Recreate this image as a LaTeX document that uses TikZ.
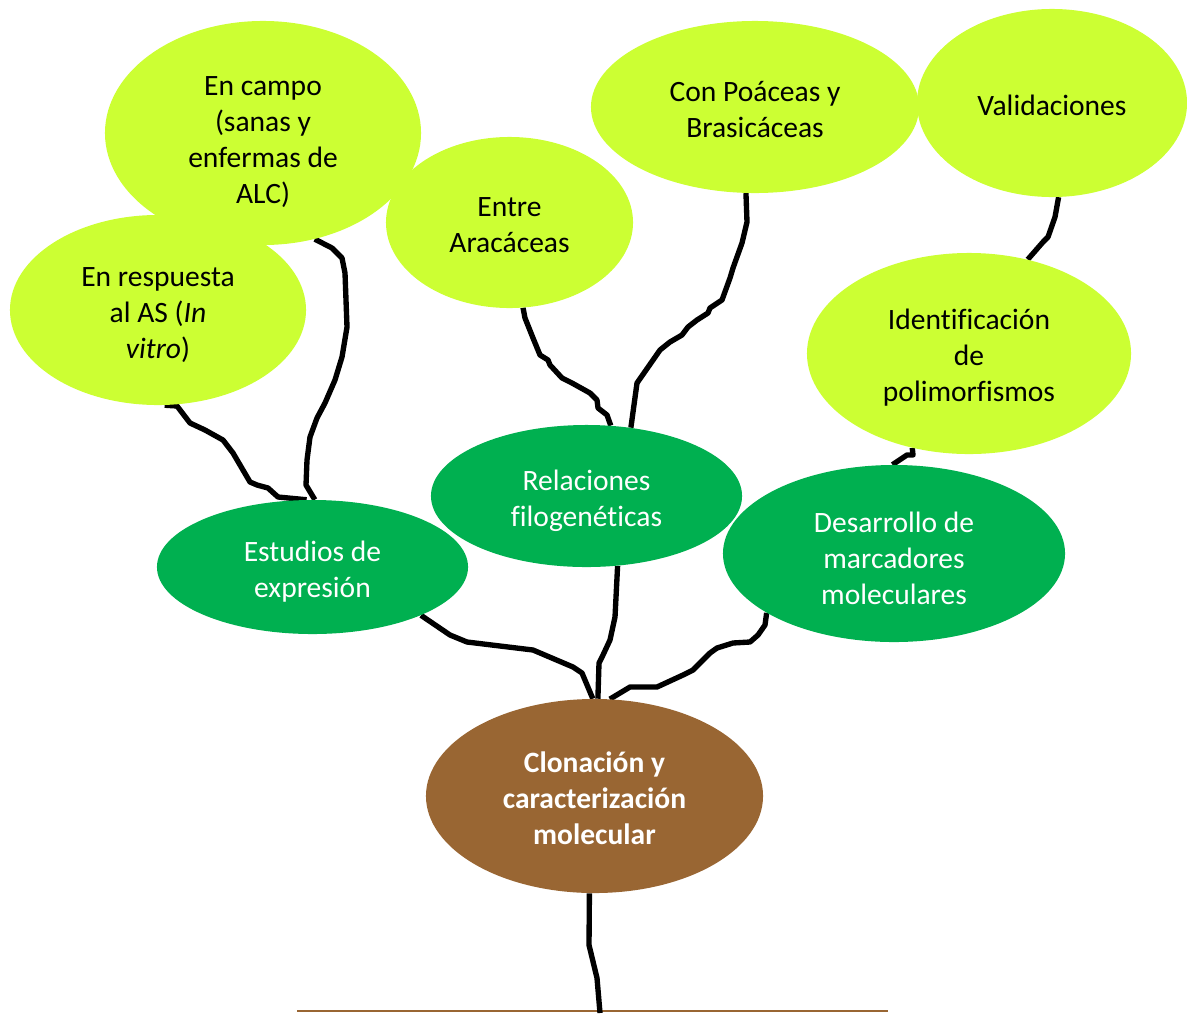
\documentclass[tikz,border=0pt]{standalone}
\usepackage{fontspec}
\setmainfont{Carlito}[Ligatures={NoCommon}]
\usepackage{tikz}
\usetikzlibrary{shapes.geometric,backgrounds}
\definecolor{leafgreen}{RGB}{204,255,51}
\definecolor{boughgreen}{RGB}{0,176,80}
\definecolor{barkbrown}{RGB}{153,102,51}

\begin{document}
\begin{tikzpicture}[
    x=0.025cm, y=-0.025cm,
    leaf/.style={ellipse, fill=leafgreen, text=black, align=center, inner sep=0pt, font=\fontsize{21}{25.6}\selectfont},
    bough/.style={leaf, fill=boughgreen, text=white},
    seed/.style={leaf, fill=barkbrown, text=white, font=\fontsize{21}{25.6}\selectfont\bfseries},
    branch/.style={draw, line width=3.8pt, line join=round},
    soil/.style={draw=barkbrown, line width=2pt}
]
\useasboundingbox (0,0) rectangle (1187,1013);

% top leaves
\node [leaf, minimum width=7.4cm, minimum height=4.75cm, text height=72pt] (resp) at (158,310) {En respuesta\\al AS (\textit{In}\\\textit{vitro})};
\node [leaf, minimum width=7.9cm, minimum height=5.6cm, text height=103pt] (campo) at (263,133) {En campo\\(sanas y\\enfermas de\\ALC)};
\node [leaf, minimum width=6.175cm, minimum height=4.275cm, text height=43pt] (entre) at (509.5,222.5) {Entre\\Arac\'aceas};
\node [leaf, minimum width=8.2cm, minimum height=4.3cm, text height=43pt] (poac) at (755,107) {Con Po\'aceas y\\Brasic\'aceas};
\node [leaf, minimum width=6.75cm, minimum height=4.7cm, text height=18pt] (valid) at (1052,103) {Validaciones};
\node [leaf, minimum width=8.1cm, minimum height=5.025cm, text height=71pt] (ident) at (969,353.5) {Identificaci\'on\\de\\polimorfismos};

% boughs
\node [bough, minimum width=7.775cm, minimum height=3.35cm, text height=47pt] (estud) at (312.5,567) {Estudios de\\expresi\'on};
\node [bough, minimum width=7.775cm, minimum height=3.55cm, text height=47pt] (rel) at (586.5,496) {Relaciones\\filogen\'eticas};
\node [bough, minimum width=8.55cm, minimum height=4.425cm, text height=73pt] (desa) at (894,553.5) {Desarrollo de\\marcadores\\moleculares};

% root
\node [seed, minimum width=8.425cm, minimum height=4.85cm, text height=69pt] (clon) at (594.5,796) {Clonaci\'on y\\caracterizaci\'on\\molecular};

\coordinate (soilL) at (297,1011);
\coordinate (soilR) at (888,1011);
\coordinate (root) at (600,1013);

\begin{scope}[on background layer]
\path [soil] (soilL) -- (soilR);
\path [branch] (clon.-93) -- (589,945) -- (597,978) -- (root);

\path [branch] (estud.-24) -- (450,635) -- (467,642) -- (533,650) -- (573,667) -- (582,673) -- (clon.91);
\path [branch] (rel.-66) -- (615,617) -- (610,640) -- (603,655) -- (599,663) -- (clon.88);
\path [branch] (desa.205) -- (765,625) -- (758,635) -- (750,642) -- (733,643) -- (717,648) -- (710,653) -- (693,670) -- (683,675) -- (657,687) -- (630,687) -- (clon.81);

\path [branch] (resp.-86) -- (177,406) -- (190,423) -- (205,430) -- (223,440) -- (233,453) -- (250,482) -- (257,485) -- (268,488) -- (278,497) -- (estud.95);
\path [branch] (campo.-64) -- (332,248) -- (342,258) -- (345,273) -- (347,327) -- (342,357) -- (335,380) -- (325,403) -- (317,418) -- (310,437) -- (307,460) -- (306,485) -- (estud.88);

\path [branch] (entre.-81) -- (525,318) -- (533,338) -- (540,355) -- (548,360) -- (550,365) -- (562,378) -- (572,383) -- (590,393) -- (597,400) -- (598,408) -- (607,415) -- (rel.71);
\path [branch] (poac.-96) -- (747,222) -- (742,243) -- (733,268) -- (730,278) -- (722,300) -- (710,308) -- (708,313) -- (697,320) -- (688,327) -- (682,335) -- (670,342) -- (660,350) -- (637,383) -- (rel.57);

\path [branch] (valid.-86) -- (1055,217) -- (1048,237) -- (1043,242) -- (ident.58);
\path [branch] (ident.-121) -- (913,455) -- (907,455) -- (desa.91);
\end{scope}

\end{tikzpicture}
\end{document}
